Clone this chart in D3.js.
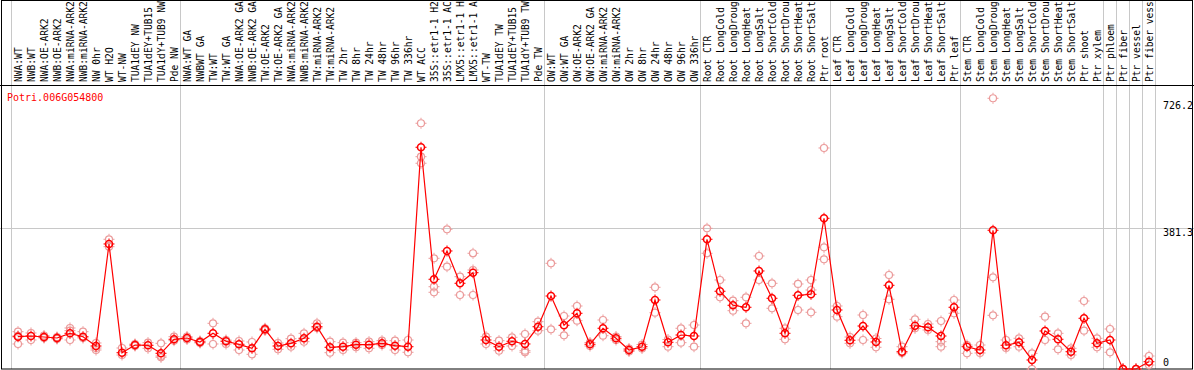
<!DOCTYPE html>
<html>
<head>
<meta charset="utf-8">
<script src="https://cdn.jsdelivr.net/npm/d3@7"></script>
<style>
  body { margin: 0; background: #fff; }
  svg { display: block; }
  text { font-family: "DejaVu Sans Mono", monospace; }
</style>
</head>
<body>
<svg id="chart" width="1194" height="370"></svg>
<script>
const gene = "Potri.006G054800";

const samples = [
  "NWA:WT", "NWB:WT", "NWA:OE-ARK2", "NWB:OE-ARK2", "NWA:miRNA-ARK2", "NWB:miRNA-ARK2",
  "NW 0hr", "WT H2O", "WT-NW", "TUA1dEY NW", "TUA1dEY+TUB15 NW", "TUA1dY+TUB9 NW", "Pde NW",
  "NWA:WT GA", "NWBWT GA", "TW:WT", "TW:WT GA", "NWA:OE-ARK2 GA", "NWB:OE-ARK2 GA",
  "TW:OE-ARK2", "TW:OE-ARK2 GA", "NWA:miRNA-ARK2 GA", "NWB:miRNA-ARK2 GA", "TW:miRNA-ARK2",
  "TW:miRNA-ARK2 GA", "TW 2hr", "TW 8hr", "TW 24hr", "TW 48hr", "TW 96hr", "TW 336hr",
  "WT ACC", "35S::etr1-1 H2O", "35S::etr1-1 ACC", "LMX5::etr1-1 H2O", "LMX5::etr1-1 ACC",
  "WT-TW", "TUA1dEY TW", "TUA1dEY+TUB15 TW", "TUA1dY+TUB9 TW", "Pde TW",
  "OW:WT", "OW:WT GA", "OW:OE-ARK2", "OW:OE-ARK2 GA", "OW:miRNA-ARK2", "OW:miRNA-ARK2 GA",
  "OW 2hr", "OW 8hr", "OW 24hr", "OW 48hr", "OW 96hr", "OW 336hr",
  "Root CTR", "Root LongCold", "Root LongDrought", "Root LongHeat", "Root LongSalt",
  "Root ShortCold", "Root ShortDrought", "Root ShortHeat", "Root ShortSalt", "Ptr root",
  "Leaf CTR", "Leaf LongCold", "Leaf LongDrought", "Leaf LongHeat", "Leaf LongSalt",
  "Leaf ShortCold", "Leaf ShortDrought", "Leaf ShortHeat", "Leaf ShortSalt", "Ptr leaf",
  "Stem CTR", "Stem LongCold", "Stem LongDrought", "Stem LongHeat", "Stem LongSalt",
  "Stem ShortCold", "Stem ShortDrought", "Stem ShortHeat", "Stem ShortSalt", "Ptr shoot", "Ptr xylem",
  "Ptr phloem", "Ptr fiber", "Ptr vessel", "Ptr fiber vessel"
];

// first sample of each group (a grey line is drawn before each, and after the last)
const groupStarts = ["NWA:WT", "NWA:WT GA", "OW:WT", "Root CTR", "Leaf CTR", "Stem CTR",
  "Ptr phloem", "Ptr fiber", "Ptr vessel", "Ptr fiber vessel"];

const means = [
  87.5, 89.4, 86.7, 84.0, 96.7, 87.5, 62.3, 338.8, 44.2, 65.0, 64.2, 42.5, 80.5,
  84.0, 73.2, 96.7, 75.1, 66.9, 56.1, 107.6, 62.3, 69.6, 83.2, 114.6, 58.8, 60.4, 65.9,
  65.9, 69.6, 63.1, 60.4, 600.8, 243.1, 319.8, 232.2, 261.0, 78.6, 60.4, 75.1, 67.8, 114.6,
  197.8, 118.4, 150.9, 66.9, 110.3, 83.2, 51.5, 60.4, 187.0, 72.4, 92.1, 89.4,
  351.5, 210.6, 172.6, 167.2, 265.6, 191.6, 96.7, 199.7, 202.4, 408.4,
  159.9, 77.8, 116.5, 73.2, 226.8, 46.9, 117.3, 113.0, 89.4, 167.2,
  60.4, 51.5, 375.9, 64.2, 72.4, 24.4, 103.0, 80.5, 46.9, 137.4, 69.6,
  78.6, 0, 0, 19.8
];

const replicates = [
  [101.1, 67.8, 90], [97.6, 78.6], [90.8, 84.0], [86.7, 81.3], [111.1, 103.8, 78.6], [101.1, 84.0],
  [70.5, 56.9, 51.5], [351.5, 331.4], [56.9, 37.9], [67.8, 62.3], [71.3, 56.1], [69.6, 35.2, 31.7], [87.5, 76.7],
  [88.1, 79.9], [75.9, 70.5], [123.8, 67.8], [78.6, 67.8], [75.9, 51.5], [73.2, 39.8],
  [110.3, 104.3], [70.5, 53.4], [82.1, 60.4], [96.7, 74.0], [123.8, 111.1],
  [74.0, 44.2], [71.3, 51.5], [71.3, 58.8], [74.0, 56.1], [76.7, 65.0], [76.7, 51.5], [78.6, 45.3],
  [665.9, 575.3, 557.5], [300.0, 223.0, 207.9], [378.6, 277.2], [250.1, 200.5], [313.6, 268.3, 200.5],
  [87.5, 67.8], [76.7, 49.6], [85.9, 62.3], [94.9, 49.6, 45.3], [128.2, 103.8],
  [286.4, 107.6], [143.6, 91.3], [170.7, 130.9], [71.8, 62.3], [132.8, 90.2], [88.1, 78.6],
  [55.6, 47.4], [66.4, 55.6], [221.4, 152.6], [79.9, 60.4], [110.3, 71.3], [119.2, 60.4],
  [381.3, 313.6], [241.2, 194.3], [185.1, 158.0], [194.3, 123.8], [306.2, 241.2],
  [232.2, 164.5], [110.3, 80.5], [230.4, 159.9], [241.2, 214.1, 153.7], [598.9, 329.8, 297.3],
  [170.7, 141.7], [86.7, 69.6], [146.3, 78.6], [82.7, 58.8], [254.7, 188.9],
  [60.4, 43.4], [134.7, 110.3], [122.0, 105.7], [130.1, 74.0, 60.4], [187.0, 150.9],
  [65.0, 42.5], [65.0, 43.4], [733.6, 248.5, 145.5], [78.6, 56.9], [83.2, 60.4],
  [42.5, 0], [141.7, 78.6], [96.7, 53.4], [56.1, 37.9], [184.3, 103.8], [83.2, 58.8],
  [108.4, 45.3], [0, 0], [0, 0], [35.2, 10.8]
];

const yTicks = [0, 381.3, 726.2];

const svg = d3.select("#chart");
const width = +svg.attr("width"), height = +svg.attr("height");
const plotLeft = 11, plotRight = 1155, labelBase = 85, plotBottom = 369;

const x = d3.scaleBand().domain(samples).range([plotLeft, plotRight]).padding(0);
const y = d3.scaleLinear().domain([0, 726.2]).range([plotBottom, 101]);
const cx = d => x(d) + x.bandwidth() / 2 + 0.5;

// horizontal grid line at the middle tick
svg.append("line")
  .attr("x1", 0).attr("x2", width)
  .attr("y1", Math.round(y(yTicks[1])) + 0.5).attr("y2", Math.round(y(yTicks[1])) + 0.5)
  .attr("stroke", "#c8c8c8");

// vertical group separators
const seps = groupStarts.map(s => x(s)).concat([plotRight]);
svg.selectAll(".sep")
  .data(seps)
  .enter()
  .append("line")
  .attr("class", "sep")
  .attr("x1", d => Math.round(d) + 0.5).attr("x2", d => Math.round(d) + 0.5)
  .attr("y1", 0).attr("y2", plotBottom)
  .attr("stroke", "#c8c8c8");

// frame
svg.append("rect")
  .attr("x", 1.5).attr("y", 0.5)
  .attr("width", width - 3).attr("height", plotBottom - 0.5)
  .attr("fill", "none").attr("stroke", "#000");
svg.append("line")
  .attr("x1", 0).attr("x2", width)
  .attr("y1", labelBase + 0.5).attr("y2", labelBase + 0.5)
  .attr("stroke", "#000");

// sample labels, rotated (long ones run off the top, as in the source)
svg.append("g")
  .selectAll("text")
  .data(samples)
  .enter()
  .append("text")
  .attr("transform", d => `translate(${cx(d) + 4},${labelBase - 3}) rotate(-90)`)
  .attr("font-size", "9.6px")
  .attr("fill", "#000")
  .text(d => d);

// gene title
svg.append("text")
  .attr("x", 7).attr("y", 101)
  .attr("font-size", "10px")
  .attr("fill", "#ff0000")
  .text(gene);

// right-hand value labels
svg.append("g")
  .selectAll("text")
  .data(yTicks)
  .enter()
  .append("text")
  .attr("x", 1163)
  .attr("y", d => d === 0 ? plotBottom - 3 : y(d) + 8)
  .attr("font-size", "10px")
  .attr("fill", "#000")
  .text(d => d);

function marker(g, px, py, color, sw) {
  g.append("circle")
    .attr("cx", px).attr("cy", py).attr("r", 3.5)
    .attr("fill", "none").attr("stroke", color).attr("stroke-width", sw);
  g.append("path")
    .attr("d", `M${px},${py - 5.5}V${py - 4}M${px},${py + 4}V${py + 5.5}` +
               `M${px - 5.5},${py}H${px - 4}M${px + 4},${py}H${px + 5.5}`)
    .attr("stroke", color).attr("stroke-width", 1);
}

// replicate markers
const reps = svg.append("g");
samples.forEach((s, i) => {
  replicates[i].forEach(v => marker(reps, cx(s), y(v), "#eb9a9a", 1.2));
});

// mean line
const line = d3.line()
  .x((d, i) => cx(samples[i]))
  .y(d => y(d));
svg.append("path")
  .datum(means)
  .attr("fill", "none")
  .attr("stroke", "#ff0000")
  .attr("stroke-width", 1.2)
  .attr("d", line);

// mean markers
const mg = svg.append("g");
samples.forEach((s, i) => marker(mg, cx(s), y(means[i]), "#ff0000", 1.6));
</script>
</body>
</html>
